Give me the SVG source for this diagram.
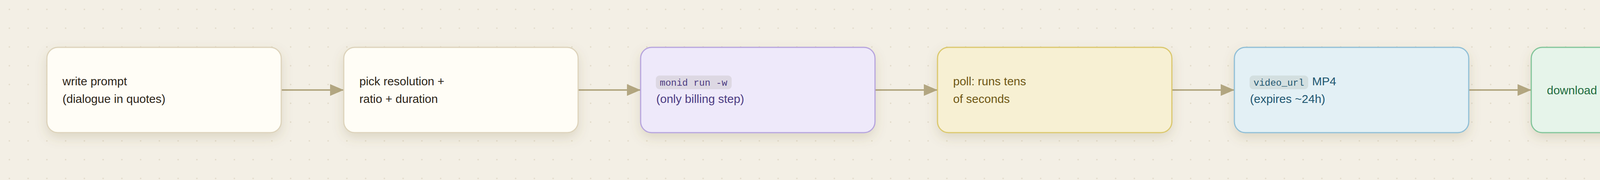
<svg xmlns="http://www.w3.org/2000/svg" width="4640" height="460" viewBox="0 0 4640 460">
  <defs>
    <pattern id="dots" x="0" y="0" width="48" height="48" patternUnits="userSpaceOnUse">
      <circle cx="24" cy="24" r="2" fill="#e3dccb"/>
    </pattern>
    <filter id="shadow" x="-10%" y="-30%" width="120%" height="170%">
      <feDropShadow dx="0" dy="12" stdDeviation="14" flood-color="#7a6a40" flood-opacity="0.18"/>
    </filter>
    <marker id="arrow" markerUnits="userSpaceOnUse" markerWidth="35" markerHeight="30" viewBox="0 0 35 30" refX="35" refY="15" orient="auto">
      <path d="M0,0 L35,15 L0,30 Z" fill="#b3a782"/>
    </marker>
  </defs>
  <style>
    .box { stroke-width: 3; filter: url(#shadow); }
    .t { font-family: "Liberation Sans", Arial, sans-serif; font-size: 30px; }
    .mono { font-family: "Liberation Mono", "DejaVu Sans Mono", monospace; font-size: 24px; }
    .edge { stroke: #b3a782; stroke-width: 4; fill: none; }
    .neutral rect.box { fill: #fffdf6; stroke: #ddd3bb; }
    .neutral text { fill: #2b2418; }
    .purple rect.box { fill: #eee9fa; stroke: #b7a5dd; }
    .purple text { fill: #4b3b82; }
    .purple rect.pill { fill: #ddd8e3; }
    .yellow rect.box { fill: #f7f0d3; stroke: #dbc86e; }
    .yellow text { fill: #6e5714; }
    .blue rect.box { fill: #e3f0f5; stroke: #91bfd6; }
    .blue text { fill: #1e5670; }
    .blue rect.pill { fill: #d3dfe0; }
    .green rect.box { fill: #e6f4ea; stroke: #82c59a; }
    .green text { fill: #1e6b3c; }
  </style>
  <rect width="4640" height="460" fill="#f3efe5"/>
  <rect width="4640" height="460" fill="url(#dots)"/>

  <g id="connectors">
    <path class="edge" d="M720,230 H880" marker-end="url(#arrow)"/>
    <path class="edge" d="M1480,230 H1640" marker-end="url(#arrow)"/>
    <path class="edge" d="M2240,230 H2400" marker-end="url(#arrow)"/>
    <path class="edge" d="M3000,230 H3160" marker-end="url(#arrow)"/>
    <path class="edge" d="M3760,230 H3920" marker-end="url(#arrow)"/>
  </g>

  <g id="node-write-prompt" class="neutral">
    <rect class="box" x="120" y="121" width="600" height="218" rx="28"/>
    <text class="t" x="160" y="218">write prompt</text>
    <text class="t" x="160" y="263">(dialogue in quotes)</text>
  </g>

  <g id="node-pick-resolution" class="neutral">
    <rect class="box" x="880" y="121" width="600" height="218" rx="28"/>
    <text class="t" x="920" y="218">pick resolution +</text>
    <text class="t" x="920" y="263">ratio + duration</text>
  </g>

  <g id="node-monid-run" class="purple">
    <rect class="box" x="1640" y="121" width="600" height="218" rx="28"/>
    <rect class="pill" x="1679" y="193" width="194" height="35" rx="9"/>
    <text class="mono" x="1689" y="219">monid run -w</text>
    <text class="t" x="1680" y="263">(only billing step)</text>
  </g>

  <g id="node-poll" class="yellow">
    <rect class="box" x="2400" y="121" width="600" height="218" rx="28"/>
    <text class="t" x="2440" y="218">poll: runs tens</text>
    <text class="t" x="2440" y="263">of seconds</text>
  </g>

  <g id="node-video-url" class="blue">
    <rect class="box" x="3160" y="121" width="600" height="218" rx="28"/>
    <rect class="pill" x="3199" y="193" width="150" height="35" rx="9"/>
    <text class="mono" x="3209" y="219">video_url</text>
    <text class="t" x="3359" y="218">MP4</text>
    <text class="t" x="3200" y="263">(expires ~24h)</text>
  </g>

  <g id="node-download" class="green">
    <rect class="box" x="3920" y="121" width="600" height="218" rx="28"/>
    <text class="t" x="3960" y="241">download</text>
  </g>
</svg>
